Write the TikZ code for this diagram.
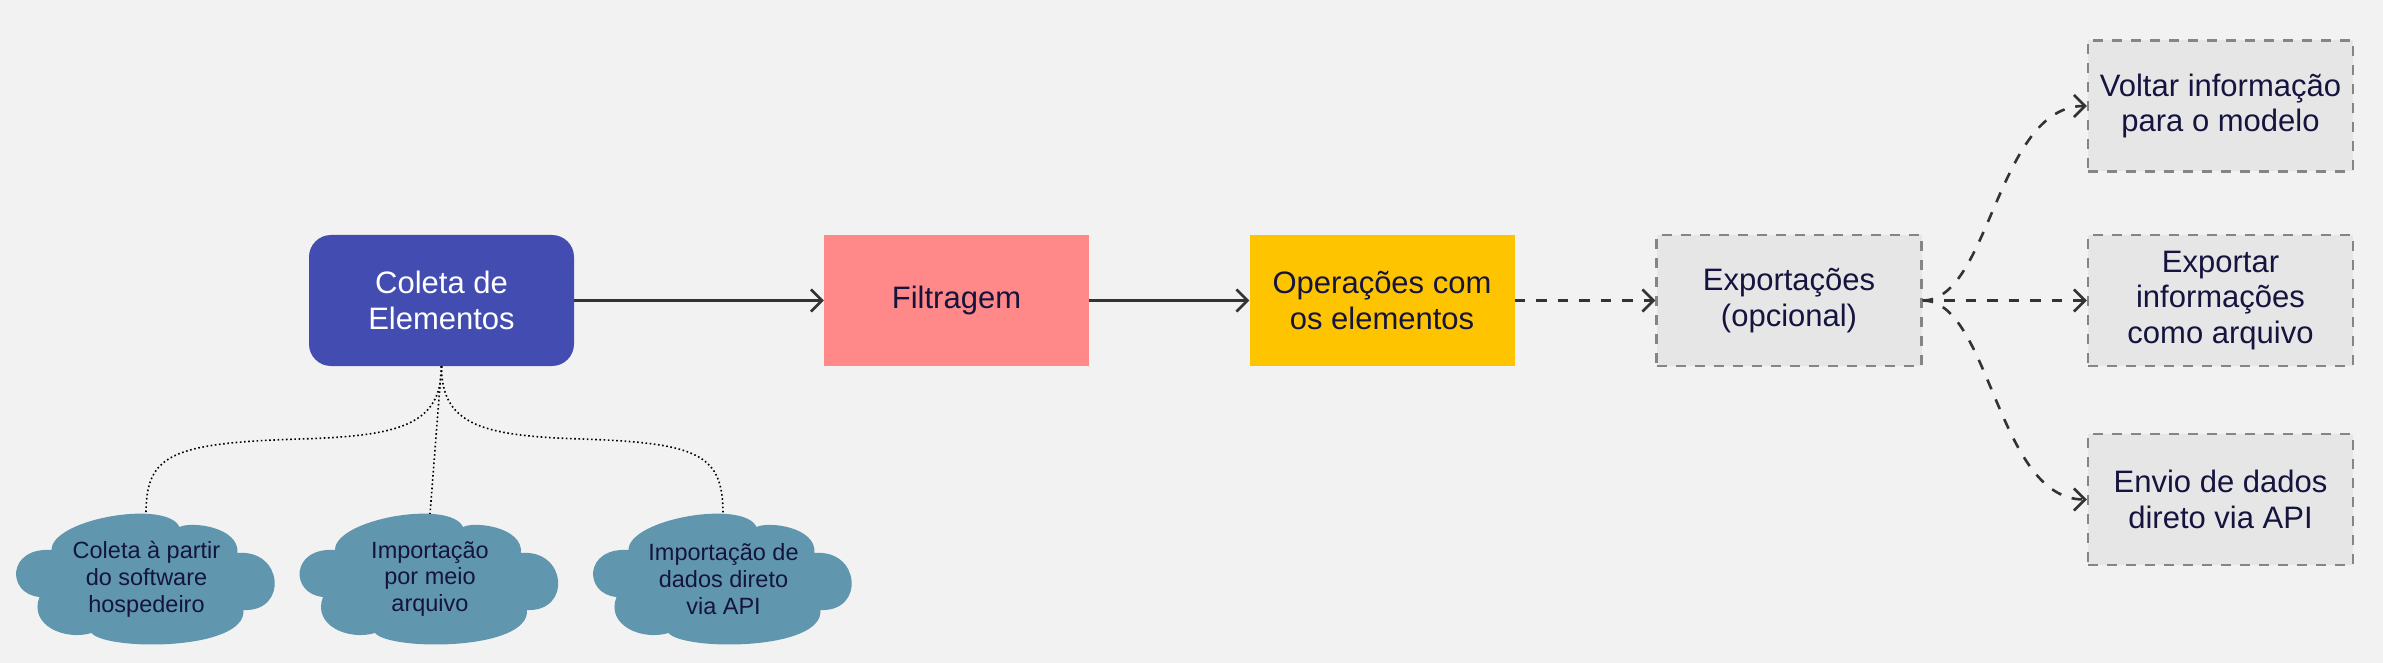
\documentclass[tikz,border=0pt]{standalone}
\usepackage{fontspec}
\setmainfont{Liberation Sans}
\usetikzlibrary{arrows.meta}
\definecolor{bgc}{HTML}{F2F2F2}
\definecolor{navy}{HTML}{14143F}
\definecolor{indigo}{HTML}{434CB0}
\definecolor{salmon}{HTML}{FF8888}
\definecolor{amber}{HTML}{FFC400}
\definecolor{cloudc}{HTML}{6096AE}
\definecolor{grayfill}{HTML}{E6E6E6}
\definecolor{grayline}{HTML}{858585}
\definecolor{linec}{HTML}{333333}
\tikzset{
  box/.style={minimum width=265pt, minimum height=131pt, inner sep=0pt, align=center,
    font=\fontsize{31}{35.3}\selectfont, text=navy},
  optbox/.style={box, fill=grayfill, draw=grayline, line width=2.4pt, dash pattern=on 10pt off 9pt},
  cloudtxt/.style={inner sep=0pt, align=center, font=\fontsize{23.5}{26.8}\selectfont, text=navy},
  flow/.style={draw=linec, line width=2.6pt, -{Straight Barb[length=11pt,width=22pt,line width=2.6pt]}},
  optflow/.style={flow, dash pattern=on 10.5pt off 11pt},
  link/.style={draw=black, line width=1.6pt, dash pattern=on 1.6pt off 2.6pt}
}
\newcommand\drawcloud[1]{%
  \fill[cloudc, shift={(#1)}] (-95,-29)
    .. controls (-95,-60) and (20,-80) .. (33,-52)
    .. controls (45,-58) and (93,-52) .. (91,-26)
    .. controls (137,-30) and (142,33) .. (97,31)
    .. controls (100,72) and (-40,72) .. (-55,54)
    .. controls (-82,62) and (-118,46) .. (-107,18)
    .. controls (-140,15) and (-140,-32) .. (-95,-29) -- cycle;}
\begin{document}
\begin{tikzpicture}[x=1pt, y=-1pt]
\path[use as bounding box, fill=bgc] (0,0) rectangle (2383,663);

% main row
\node[box, fill=indigo, rounded corners=22pt, text=white] (coleta) at (441.5,300.5) {Coleta de\\Elementos};
\node[box, fill=salmon] (filt) at (956.5,300.5) {Filtragem};
\node[box, fill=amber] (oper) at (1382,300.5) {Operações com\\os elementos};
\node[optbox] (exp) at (1789,300.5) {Exportações\\(opcional)};
\node[optbox] (voltar) at (2220.5,106) {Voltar informação\\para o modelo};
\node[optbox] (arq) at (2220.5,300.5) {Exportar\\informações\\como arquivo};
\node[optbox] (api) at (2220.5,499.5) {Envio de dados\\direto via API};

% clouds
\coordinate (c1pos) at (146.5,579);
\coordinate (c2pos) at (430,579);
\coordinate (c3pos) at (723.5,579);
\drawcloud{c1pos}
\drawcloud{c2pos}
\drawcloud{c3pos}
\node[cloudtxt] (c1) at (c1pos) {Coleta à partir\\do software\\hospedeiro};
\node[cloudtxt] (c2) at (c2pos) {Importação\\por meio\\arquivo};
\node[cloudtxt] (c3) at (c3pos) {Importação de\\dados direto\\via API};
\coordinate (c1top) at (146,514);
\coordinate (c2top) at (430,514);
\coordinate (c3top) at (723,514);

% connectors
\draw[flow] (coleta.east) -- (filt.west);
\draw[flow] (filt.east) -- (oper.west);
\draw[optflow] (oper.east) -- (exp.west);
\draw[optflow] (exp.east) -- (arq.west);
\draw[optflow] (exp.east) .. controls (1990,300.5) and (1997,106) .. (voltar.west);
\draw[optflow] (exp.east) .. controls (1990,300.5) and (1997,499.5) .. (api.west);

\draw[link] (coleta.south) .. controls (441.5,425) and (400,436) .. (300,439)
  .. controls (170,443) and (146,455) .. (c1top);
\draw[link] (coleta.south) -- (c2top);
\draw[link] (coleta.south) .. controls (441.5,425) and (482,436) .. (582,439)
  .. controls (700,443) and (723,455) .. (c3top);
\end{tikzpicture}
\end{document}
